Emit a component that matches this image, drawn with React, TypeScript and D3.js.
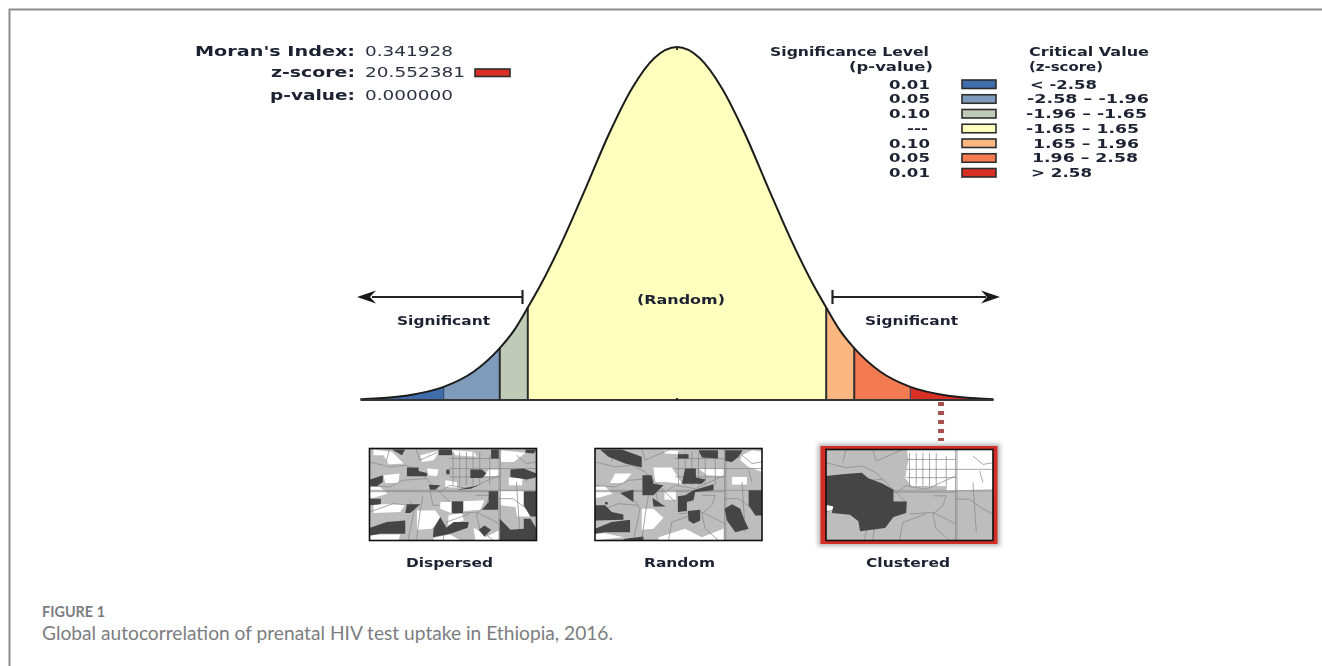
import React from "react";
import * as d3 from "d3";

// ---- values ----
const curveZ = [-3.5, -3, -2.58, -2.25, -1.96, -1.8, -1.65, -1.5, -1.25, -1, -0.75, -0.5, -0.25, 0, 0.25, 0.5, 0.75, 1, 1.25, 1.5, 1.65, 1.8, 1.96, 2.25, 2.58, 3, 3.5];
const curveDensity = [0.002, 0.012, 0.037, 0.08, 0.147, 0.198, 0.262, 0.33, 0.46, 0.606, 0.755, 0.882, 0.969, 1, 0.969, 0.882, 0.755, 0.606, 0.46, 0.33, 0.262, 0.198, 0.147, 0.08, 0.037, 0.012, 0.002];
const bandBreaks = [-3.5, -2.58, -1.96, -1.65, 1.65, 1.96, 2.58, 3.5];
const bandColors = ["#3f6cab", "#7f9bbb", "#c0cbb7", "#ffffbe", "#fcb67f", "#f27b52", "#d92f25"];
const significance = ["0.01", "0.05", "0.10", "---", "0.10", "0.05", "0.01"];
const critical = ["< -2.58", "-2.58 – -1.96", "-1.96 – -1.65", "-1.65 – 1.65", "1.65 – 1.96", "1.96 – 2.58", "> 2.58"];
const statNames = ["Moran's Index:", "z-score:", "p-value:"];
const statValues = ["0.341928", "20.552381", "0.000000"];
const zScoreMark = 2.92;

type Pt = [number, number];
const dispersedDark: Pt[][] = [
  [[95,28],[135,28],[125,45]],[[235,28],[275,28],[275,45],[235,45]],[[392,28],[415,28],[415,55],[392,55]],
  [[495,28],[528,28],[520,40],[495,38]],[[140,82],[175,82],[175,92],[200,98],[200,108],[140,108]],
  [[330,88],[365,88],[378,100],[365,113],[330,113]],[[450,88],[490,85],[528,100],[525,112],[500,118],[450,110]],
  [[30,118],[68,105],[68,125],[50,138],[30,138]],[[205,133],[240,135],[225,148],[210,148]],
  [[290,148],[355,135],[330,145],[295,148]],[[258,88],[268,88],[268,102],[258,102]],[[30,175],[62,175],[62,192],[30,195]],
  [[385,153],[413,153],[413,208],[365,208],[385,185]],[[490,153],[528,153],[528,228],[510,228],[490,195]],
  [[275,183],[308,183],[308,218],[275,218]],[[140,192],[180,192],[150,218],[135,218]],
  [[30,262],[80,245],[135,240],[135,280],[60,280],[30,285]],
  [[240,230],[258,262],[280,245],[325,245],[322,262],[270,280],[218,290],[220,265]],
  [[372,255],[392,268],[372,288],[355,268]],
  [[418,235],[450,268],[490,265],[490,235],[510,235],[528,265],[528,300],[418,300]],
];
const dispersedWhite: Pt[][] = [
  [[40,28],[95,35],[130,70],[85,72],[70,45],[40,45]],[[180,45],[240,30],[220,60],[185,65]],[[275,30],[340,35],[350,50],[285,45]],
  [[420,30],[495,38],[460,65],[420,65]],[[200,85],[235,88],[230,108],[205,105]],[[70,105],[118,100],[115,128],[75,128]],
  [[385,88],[415,88],[415,108],[370,108]],[[445,112],[485,112],[485,135],[445,135]],[[30,140],[60,140],[82,160],[40,172],[30,172]],
  [[255,120],[290,125],[290,142],[255,140]],[[415,153],[490,153],[490,195],[510,228],[470,228],[465,200],[420,195]],
  [[40,192],[135,192],[120,215],[40,218]],[[240,185],[272,185],[272,218],[240,205]],[[310,183],[372,180],[360,208],[310,212]],
  [[170,210],[225,210],[240,232],[215,265],[170,268]],[[265,225],[305,215],[310,240],[262,255]],
  [[30,285],[60,282],[120,282],[115,300],[30,300]],[[340,262],[355,270],[375,290],[415,270],[415,300],[345,300]],
  [[220,292],[270,282],[300,300],[220,300]],
];
const randomDark: Pt[][] = [
  [[45,28],[110,28],[170,50],[170,82],[120,70],[70,50]],[[278,42],[310,42],[310,55],[278,55]],[[340,30],[398,30],[398,55],[350,52]],
  [[420,30],[472,30],[460,50],[440,65],[420,62]],[[300,85],[332,85],[332,112],[362,118],[350,130],[290,130]],
  [[172,105],[200,105],[205,130],[235,135],[205,165],[172,165]],[[105,158],[145,148],[145,185]],[[202,173],[240,198],[205,198]],
  [[325,150],[385,132],[385,150],[330,155],[325,180],[305,185],[305,212],[278,215],[278,168],[300,165]],
  [[490,150],[530,150],[530,225],[510,225],[490,195]],[[308,212],[345,208],[345,240],[325,250],[310,240]],
  [[30,195],[60,195],[80,215],[115,222],[115,238],[30,240]],[[30,265],[80,245],[135,238],[135,275],[60,275],[30,280]],
  [[120,295],[175,288],[175,300],[112,300]],[[418,205],[440,192],[465,205],[478,240],[490,265],[450,275],[425,240]],
  [[60,185],[68,185],[68,192],[60,192]],
];
const randomWhite: Pt[][] = [
  [[470,45],[500,30],[530,35],[530,95],[490,80],[465,60]],[[238,30],[280,32],[278,42],[238,40]],
  [[205,82],[260,82],[290,130],[240,125],[210,125]],[[340,85],[415,85],[415,108],[365,105]],[[90,100],[140,100],[115,128],[75,128]],
  [[440,110],[485,110],[485,133],[440,133]],[[30,140],[60,138],[82,160],[40,172],[30,172]],[[238,150],[272,150],[272,178],[238,178]],
  [[170,205],[205,205],[235,232],[205,265],[170,268]],[[220,290],[300,265],[350,290],[415,265],[415,300],[220,300]],
  [[30,280],[60,278],[115,290],[30,300]],
];
const clusteredDark: Pt[][] = [
  [[48,228],[105,222],[155,218],[175,235],[215,250],[250,270],[250,305],[290,305],[288,340],[250,352],[225,385],[150,395],[145,365],[120,345],[65,340],[70,320],[48,315]],
];
const clusteredWhite: Pt[][] = [
  [[290,148],[548,148],[548,268],[410,272],[410,258],[305,258],[285,235],[290,205],[295,180]],
  [[48,318],[80,312],[85,330],[60,335],[48,330]],
];
// district borders, measured from each map's top-left corner
const districtLines: Pt[][] = [
  [[388,0],[388,275]],[[392,0],[392,275]],[[0,125],[500,125]],[[0,129],[385,129]],
  [[250,10],[250,110]],[[270,10],[270,110]],[[290,10],[290,110]],[[310,10],[310,110]],[[330,10],[330,110]],[[360,20],[360,110]],
  [[240,30],[390,30]],[[240,60],[390,60]],[[240,85],[390,85]],
  [[0,40],[60,55],[110,50],[150,70],[180,100],[210,130],[240,160]],[[0,110],[60,115],[100,95],[170,90]],
  [[120,155],[135,180],[115,275]],[[180,120],[190,170],[210,170]],[[320,140],[360,140],[350,170],[320,195]],
  [[388,60],[500,60]],[[388,150],[430,150],[470,180],[500,195]],[[140,0],[150,35],[230,0]],
  [[250,195],[320,190],[370,215],[388,225]],[[460,65],[470,100]],[[440,100],[450,250]],
  [[0,190],[70,165],[130,170]],[[160,140],[150,200],[140,275]],[[210,130],[240,110],[300,120],[388,80]],
  [[220,275],[230,220],[300,195]],[[320,195],[330,240],[370,275]],[[440,20],[470,45],[500,40]],[[60,0],[50,40]],
];

const W = 1322, H = 666;
const FONT = "'DejaVu Sans', Verdana, sans-serif";

const x = d3.scaleLinear().domain([-3.5, 3.5]).range([360.5, 993.5]);
const y = d3.scaleLinear().domain([0, 1]).range([400, 47]);
const curvePoints = curveZ.map((z, i) => ({ z, d: curveDensity[i] }));
const area = d3.area<{ z: number; d: number }>().x((p) => x(p.z)).y0(y(0)).y1((p) => y(p.d)).curve(d3.curveMonotoneX);
const line = d3.line<{ z: number; d: number }>().x((p) => x(p.z)).y((p) => y(p.d)).curve(d3.curveMonotoneX);
const densityAt = (z: number) => curveDensity[curveZ.indexOf(z)];

const rowY = d3.scalePoint<number>().domain(d3.range(7)).range([84, 172.5]);

function Label({ t, x: lx, to, cy, bold = true, fill = "#1c2233", size = 13.5 }: any) {
  return (
    <text x={lx} y={cy + size * 0.36} textLength={to - lx} lengthAdjust="spacingAndGlyphs" fontFamily={FONT}
      fontWeight={bold ? 700 : 400} fontSize={size} fill={fill}>{t}</text>
  );
}

function MapPanel({ left, top, width, height, originX, originY, dark, white, name }: any) {
  const mx = d3.scaleLinear().domain([originX, originX + 500]).range([left, left + width]);
  const my = d3.scaleLinear().domain([originY, originY + 275]).range([top, top + height]);
  const bx = d3.scaleLinear().domain([0, 500]).range([left, left + width]);
  const by = d3.scaleLinear().domain([0, 275]).range([top, top + height]);
  const poly = d3.line<Pt>().x((p) => mx(p[0])).y((p) => my(p[1]));
  const border = d3.line<Pt>().x((p) => bx(p[0])).y((p) => by(p[1]));
  return (
    <g>
      <clipPath id={"clip-" + name}><rect x={left} y={top} width={width} height={height} /></clipPath>
      <g clipPath={`url(#clip-${name})`}>
        <g filter="url(#soft)">
          <rect x={left - 3} y={top - 3} width={width + 6} height={height + 6} fill="#bdbdbd" />
          {white.map((p: Pt[], i: number) => <path key={i} d={poly(p) + "Z"} fill="#fff" />)}
          {districtLines.map((p, i) => <path key={i} d={border(p)!} fill="none" stroke="#8a8a8a" strokeOpacity={0.75} strokeWidth={1} />)}
          {dark.map((p: Pt[], i: number) => <path key={i} d={poly(p) + "Z"} fill="#444" />)}
        </g>
      </g>
      <rect x={left} y={top} width={width} height={height} fill="none" stroke="#111" strokeWidth={1.6} />
    </g>
  );
}

export default function App() {
  const nearCritical = bandBreaks.slice(1, -1);
  return (
    <svg width={W} height={H} viewBox={`0 0 ${W} ${H}`} style={{ position: "absolute", left: 0, top: 0, background: "#fff" }}>
      <defs>
        <filter id="soft" x="-5%" y="-5%" width="110%" height="110%"><feGaussianBlur stdDeviation="0.5" /></filter>
        <filter id="txt" x="-5%" y="-5%" width="110%" height="110%"><feGaussianBlur stdDeviation="0.45" /></filter>
        <filter id="halo" x="-10%" y="-10%" width="120%" height="120%"><feGaussianBlur stdDeviation="2" /></filter>
      </defs>

      {/* frame */}
      <path d="M9.5,666 V9.5 H1322" fill="none" stroke="#8c8c8c" strokeWidth={2} />

      {/* bell curve */}
      <g style={{ filter: "blur(0.35px)" }}>
        {bandColors.map((c, i) => {
          const pts = curvePoints.filter((p) => p.z >= bandBreaks[i] && p.z <= bandBreaks[i + 1]);
          return <path key={i} d={area(pts)!} fill={c} />;
        })}
        {nearCritical.map((z) => (
          <line key={z} x1={x(z)} x2={x(z)} y1={y(0)} y2={y(densityAt(z))} stroke={Math.abs(z) === 2.58 ? "#27406b" : "#2c2c2c"} strokeWidth={Math.abs(z) === 2.58 ? 1 : 2} />
        ))}
        <path d={line(curvePoints)!} fill="none" stroke="#1c1c1c" strokeWidth={2} />
        <line x1={x(-3.5)} x2={x(3.5)} y1={y(0)} y2={y(0)} stroke="#333" strokeWidth={2} />
        <line x1={x(0)} x2={x(0)} y1={y(0) - 2} y2={y(0) + 1} stroke="#222" strokeWidth={2} />
        <line x1={x(0)} x2={x(0)} y1={y(1)} y2={y(1) + 3} stroke="#333" strokeWidth={2} />
        <line x1={x(zScoreMark)} x2={x(zScoreMark)} y1={402} y2={441} stroke="#a8504f" strokeWidth={6} strokeDasharray="4 5" />
      </g>

      {/* significance arrows */}
      <g style={{ filter: "blur(0.35px)" }}>
        <line x1={523} x2={372} y1={297} y2={297} stroke="#222" strokeWidth={2} />
        <path d="M357,297 L376,290.5 L370,297 L376,303.5 Z" fill="#1a1a1a" />
        <line x1={522.5} x2={522.5} y1={290} y2={304} stroke="#222" strokeWidth={2.2} />
        <line x1={832} x2={986} y1={297} y2={297} stroke="#222" strokeWidth={2} />
        <path d="M1000,297 L981,290.5 L987,297 L981,303.5 Z" fill="#1a1a1a" />
        <line x1={832.5} x2={832.5} y1={290} y2={304} stroke="#222" strokeWidth={2.2} />
      </g>

      <g filter="url(#txt)">
        {/* statistics */}
        {statNames.map((t, i) => (
          <Label key={t} t={t} x={[195, 271, 270][i]} to={355} cy={[51, 72, 95][i]} />
        ))}
        {statValues.map((t, i) => (
          <Label key={t} t={t} x={365} to={[453, 465, 453][i]} cy={[51, 72, 95][i]} bold={false} fill="#2a3242" />
        ))}

        {/* legend headers */}
        <Label t="Significance Level" x={770} to={929} cy={51} size={12.5} />
        <Label t="(p-value)" x={849} to={933} cy={66} size={12.5} />
        <Label t="Critical Value" x={1029} to={1149} cy={51} size={12.5} />
        <Label t="(z-score)" x={1029} to={1103} cy={66} size={12.5} />

        {significance.map((t, i) => (
          <Label key={i} t={t} x={t === "---" ? 907 : 889} to={t === "---" ? 928 : 930} cy={rowY(i)!} size={12.5} />
        ))}
        {critical.map((t, i) => (
          <Label key={i} t={t} x={[1030, 1027, 1026, 1026, 1033, 1032, 1031][i]} to={[1097, 1149, 1147, 1139, 1139, 1138, 1092][i]} cy={rowY(i)!} size={12.5} />
        ))}

        {/* labels */}
        <Label t="(Random)" x={637} to={725} cy={299} size={12.5} />
        <Label t="Significant" x={397} to={490} cy={320} size={12.5} />
        <Label t="Significant" x={865} to={958} cy={320} size={12.5} />
        <Label t="Dispersed" x={406} to={493} cy={562} size={12.5} />
        <Label t="Random" x={644} to={715} cy={562} size={12.5} />
        <Label t="Clustered" x={866} to={950} cy={562} size={12.5} />
      </g>

      {/* legend swatches */}
      <g style={{ filter: "blur(0.35px)" }}>
        {bandColors.map((c, i) => (
          <rect key={c} x={962} y={rowY(i)! - 4} width={34} height={8.5} fill={c} stroke="#2e2e2e" strokeWidth={1.6} />
        ))}
        <rect x={475} y={69} width={35} height={7.5} fill={bandColors[6]} stroke="#2e2e2e" strokeWidth={1.6} />
      </g>

      {/* example maps */}
      <MapPanel name="d" left={369.5} top={448.5} width={167} height={92} originX={28} originY={25} dark={dispersedDark} white={dispersedWhite} />
      <MapPanel name="r" left={595} top={448.5} width={167} height={92} originX={30} originY={25} dark={randomDark} white={randomWhite} />
      <rect x={818} y={444} width={182} height={102} fill="#777" opacity={0.55} filter="url(#halo)" />
      <rect x={820.5} y={446} width={177} height={98} fill="#d42f26" />
      <MapPanel name="c" left={826} top={449.5} width={167} height={91} originX={48} originY={148} dark={clusteredDark} white={clusteredWhite} />

      {/* caption */}
      <text x={42} y={617} textLength={63} lengthAdjust="spacingAndGlyphs" fontFamily="Lato, 'Open Sans', sans-serif" fontWeight={700} fontSize={14.5} fill="#7b7d80">FIGURE 1</text>
      <text x={42} y={640} textLength={571} lengthAdjust="spacingAndGlyphs" fontFamily="Lato, 'Open Sans', sans-serif" fontWeight={400} fontSize={18.5} fill="#7b7d80">Global autocorrelation of prenatal HIV test uptake in Ethiopia, 2016.</text>
    </svg>
  );
}
